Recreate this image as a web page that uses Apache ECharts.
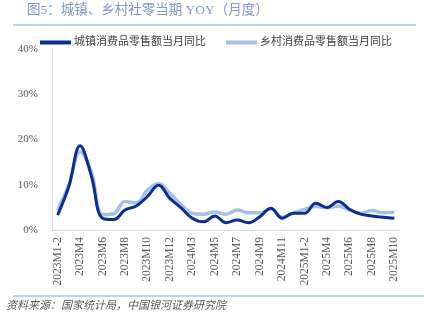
<!DOCTYPE html>
<html>
<head>
<meta charset="utf-8">
<script src="https://cdn.jsdelivr.net/npm/echarts@6/dist/echarts.min.js"></script>
<style>
  html, body { margin: 0; padding: 0; background: #fff; }
  #chart { width: 424px; height: 327px; }
</style>
</head>
<body>
<div id="chart"></div>
<script>
// Monthly periods (Jan and Feb are reported together)
const categories = [
  '2023M1-2','2023M3','2023M4','2023M5','2023M6','2023M7','2023M8','2023M9','2023M10','2023M11','2023M12',
  '2024M1-2','2024M3','2024M4','2024M5','2024M6','2024M7','2024M8','2024M9','2024M10','2024M11','2024M12',
  '2025M1-2','2025M3','2025M4','2025M5','2025M6','2025M7','2025M8','2025M9','2025M10'
];

// Year-on-year growth, %
const urbanYoY = [3.3, 9.6, 18.6, 12.0, 2.6, 2.3, 4.4, 5.3, 7.4, 9.9, 7.0,
                  4.9, 2.6, 1.8, 3.1, 1.6, 2.2, 1.6, 2.9, 4.8, 2.6, 3.7,
                  3.7, 5.9, 5.0, 6.3, 4.6, 3.5, 3.1, 2.8, 2.6];
const ruralYoY = [4.4, 10.0, 17.3, 12.8, 3.4, 3.6, 6.3, 6.0, 8.8, 10.3, 8.1,
                  5.6, 3.7, 3.5, 4.0, 3.5, 4.4, 3.8, 3.8, 4.7, 2.8, 3.8,
                  4.6, 5.2, 4.9, 5.3, 4.4, 3.7, 4.3, 3.8, 3.9];

const seriesNames = ['城镇消费品零售额当月同比', '乡村消费品零售额当月同比'];
const yTicks = { min: 0, max: 40, interval: 10 };

const titleText = '图5：城镇、乡村社零当期 YOY（月度）';
const sourceText = '资料来源：国家统计局，中国银河证券研究院';

const serifMix = "'Liberation Serif', 'Noto Sans CJK SC', serif";
const darkBlue = '#0b2f8e';
const lightBlue = '#a8bfe8';

const chart = echarts.init(document.getElementById('chart'), null, { renderer: 'canvas' });

chart.setOption({
  animation: false,
  backgroundColor: '#ffffff',
  graphic: [
    {
      type: 'text', left: 27, top: 4,
      style: { text: titleText, fill: '#7f97cb', font: "13.5px " + serifMix }
    },
    {
      type: 'line', shape: { x1: 13, y1: 25, x2: 416, y2: 25 },
      style: { stroke: '#8aa3d3', lineWidth: 1.2 }
    },
    {
      type: 'line', shape: { x1: 13, y1: 296, x2: 424, y2: 296 },
      style: { stroke: '#8aa3d3', lineWidth: 1.2 }
    },
    {
      type: 'text', left: 6, top: 301,
      style: { text: sourceText, fill: '#595959', font: "italic 11px " + serifMix }
    }
  ],
  legend: {
    top: 32, left: 35,
    itemWidth: 31, itemHeight: 4, itemGap: 20,
    icon: 'rect',
    data: [seriesNames[0], seriesNames[1]],
    textStyle: { fontSize: 11, color: '#404040', fontFamily: serifMix, padding: [0, 0, 0, -2] }
  },
  grid: { left: 52, right: 24, top: 49, bottom: 97, containLabel: false },
  xAxis: {
    type: 'category',
    data: categories,
    boundaryGap: true,
    axisLine: { show: true, lineStyle: { color: '#d9d9d9', width: 1 } },
    axisTick: { show: false },
    axisLabel: {
      interval: 1, rotate: 90, margin: 7,
      fontSize: 11.5, color: '#595959', fontFamily: serifMix
    },
    splitLine: { show: false }
  },
  yAxis: {
    type: 'value',
    min: yTicks.min, max: yTicks.max, interval: yTicks.interval,
    axisLine: { show: true, lineStyle: { color: '#d9d9d9', width: 1 } },
    axisTick: { show: false },
    splitLine: { show: false },
    axisLabel: {
      formatter: '{value}%', margin: 14,
      fontSize: 11, color: '#595959', fontFamily: serifMix
    }
  },
  series: [
    {
      name: seriesNames[1], type: 'line', data: ruralYoY,
      smooth: 0.4, symbol: 'none',
      itemStyle: { color: lightBlue },
      lineStyle: { color: lightBlue, width: 3.5 },
      z: 2
    },
    {
      name: seriesNames[0], type: 'line', data: urbanYoY,
      smooth: 0.4, symbol: 'none',
      itemStyle: { color: darkBlue },
      lineStyle: { color: darkBlue, width: 3 },
      z: 3
    }
  ]
});
</script>
</body>
</html>
